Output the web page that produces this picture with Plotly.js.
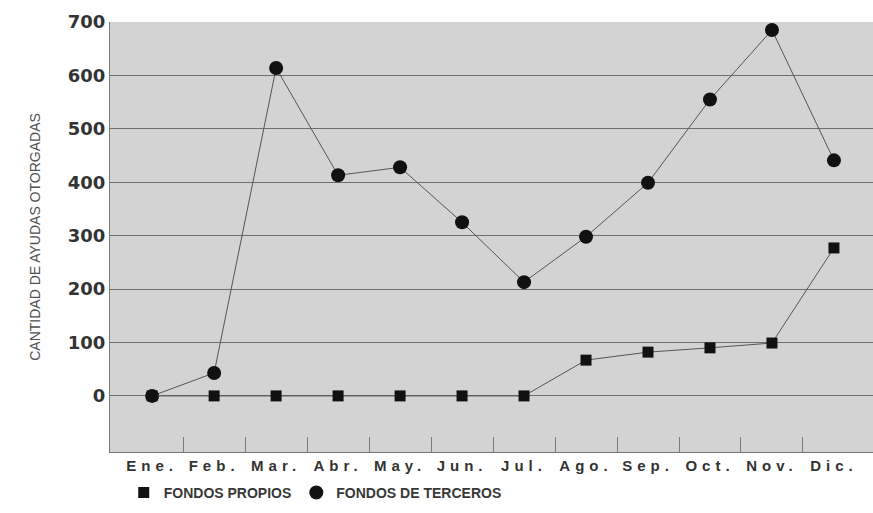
<!DOCTYPE html>
<html>
<head>
<meta charset="utf-8">
<script src="https://cdn.plot.ly/plotly-3.0.1.min.js"></script>
<style>
  html, body { margin: 0; padding: 0; background: #ffffff; }
  #chart { width: 873px; height: 513px; }
  .xtick text { letter-spacing: 5px; }
</style>
</head>
<body>
<div id="chart"></div>
<script>
// Categories (months) and tick labels
const meses = ["Ene.", "Feb.", "Mar.", "Abr.", "May.", "Jun.", "Jul.", "Ago.", "Sep.", "Oct.", "Nov.", "Dic."];

// Series values
const fondosPropios   = [0, 0, 0, 0, 0, 0, 0, 67, 82, 90, 99, 277];
const fondosTerceros  = [0, 43, 614, 413, 428, 325, 213, 298, 399, 555, 685, 441];

// Series names
const nombrePropios = "FONDOS PROPIOS";
const nombreTerceros = "FONDOS DE TERCEROS";

// Y tick values
const yTicks = [0, 100, 200, 300, 400, 500, 600, 700];

const idx = meses.map((m, i) => i);
const boundaries = meses.slice(1).map((m, i) => i + 0.5);

const lineStyle = { color: "#555555", width: 1 };
const sqMarker = { symbol: "square", size: 11, color: "#111111" };
const ciMarker = { symbol: "circle", size: 14, color: "#111111" };

const traces = [
  { x: idx, y: fondosTerceros, name: nombreTerceros, type: "scatter", mode: "lines+markers",
    line: lineStyle, marker: ciMarker, showlegend: false },
  { x: idx, y: fondosPropios, name: nombrePropios, type: "scatter", mode: "lines+markers",
    line: lineStyle, marker: sqMarker, showlegend: false },
  // legend entries (markers only, as in the original key)
  { x: [null], y: [null], name: nombrePropios, type: "scatter", mode: "markers",
    marker: sqMarker, legendrank: 1 },
  { x: [null], y: [null], name: nombreTerceros, type: "scatter", mode: "markers",
    marker: ciMarker, legendrank: 2 }
];

const baseFont = "Liberation Sans, Arial, sans-serif";

const layout = {
  width: 873, height: 513,
  margin: { l: 110, r: 0, t: 22, b: 61 },
  paper_bgcolor: "#ffffff",
  plot_bgcolor: "#d3d3d3",
  showlegend: true,
  legend: {
    orientation: "h",
    x: 0.018, xanchor: "left",
    y: -0.095, yanchor: "middle",
    font: { family: baseFont, size: 14, color: "#383838", weight: "bold" },
    itemwidth: 30,
    tracegroupgap: 0,
    bgcolor: "rgba(0,0,0,0)"
  },
  xaxis: {
    range: [-0.68, 11.63],
    tickvals: idx,
    ticktext: meses,
    ticks: "",
    showgrid: false,
    zeroline: false,
    showline: true,
    linecolor: "#7a7a7a",
    linewidth: 1,
    tickfont: { family: baseFont, size: 15, color: "#333333", weight: "bold" },
    ticklabelstandoff: 0,
    minor: {
      tickvals: boundaries,
      ticks: "inside",
      ticklen: 15,
      tickcolor: "#7a7a7a",
      tickwidth: 1,
      showgrid: false
    },
    fixedrange: true
  },
  yaxis: {
    range: [-105, 700],
    tickvals: yTicks,
    ticks: "",
    showgrid: true,
    gridcolor: "#6e6e6e",
    gridwidth: 1,
    zeroline: false,
    showline: true,
    linecolor: "#7a7a7a",
    linewidth: 1,
    tickfont: { family: "DejaVu Sans, Liberation Sans, sans-serif", size: 18, color: "#333333", weight: "bold" },
    ticklabelstandoff: 0,
    title: {
      text: "CANTIDAD DE AYUDAS OTORGADAS",
      font: { family: baseFont, size: 14, color: "#505050" },
      standoff: 23
    },
    fixedrange: true
  }
};

Plotly.newPlot("chart", traces, layout, { displayModeBar: false, staticPlot: true });
</script>
</body>
</html>
